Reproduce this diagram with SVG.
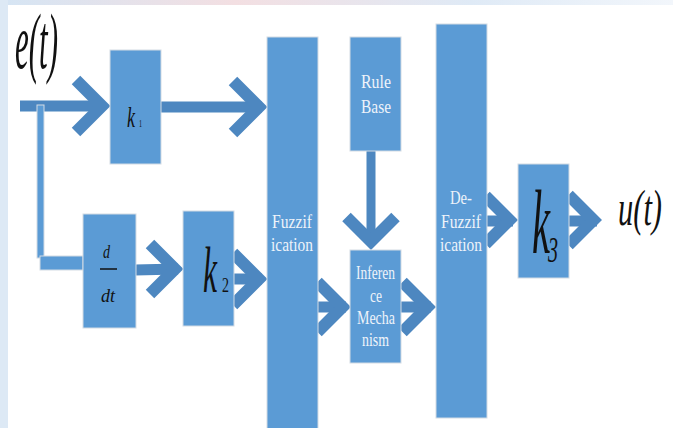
<svg xmlns="http://www.w3.org/2000/svg" width="673" height="428" viewBox="0 0 673 428">
  <defs>
    <style>
      .box{fill:#5b9bd5;stroke:#d3dbe4;stroke-width:1}
      .sh{stroke:#4d87c0;stroke-width:11;fill:none;stroke-linecap:butt}
      .chev{stroke:#4d87c0;stroke-width:12;fill:none;stroke-linejoin:miter;stroke-miterlimit:10;stroke-linecap:butt}
      .lbl{font-family:"Liberation Serif","Times New Roman",serif;font-size:18px;fill:#eef3fa;text-anchor:start}
      .math{font-family:"Liberation Serif","Times New Roman",serif;font-style:italic;fill:#111}
      .up{font-family:"Liberation Serif","Times New Roman",serif;fill:#111}
    </style>
    <linearGradient id="topg" x1="0" y1="0" x2="1" y2="0">
      <stop offset="0" stop-color="#d5e5f4"/>
      <stop offset="0.35" stop-color="#f3dfe2"/>
      <stop offset="0.7" stop-color="#dfeaf6"/>
      <stop offset="1" stop-color="#f2f6fb"/>
    </linearGradient>
  </defs>
  <rect x="0" y="0" width="673" height="428" fill="#ffffff"/>
  <rect x="0" y="0" width="673" height="5" fill="url(#topg)"/>
  <rect x="0" y="0" width="8" height="428" fill="#dde9f5"/>

  <g id="connectors">
    <!-- e(t) -> k1 -->
    <line class="sh" x1="20" y1="106" x2="104" y2="106"/>
    <path class="chev" d="M76,80 L102,106 L76,132"/>
    <!-- branch to d/dt -->
    <rect x="37" y="105" width="7" height="153" fill="#5b9bd5" stroke="#d3dbe4" stroke-width="1"/>
    <rect x="40" y="256" width="43" height="14" fill="#5b9bd5" stroke="#d3dbe4" stroke-width="1"/>
    <!-- k1 -> Fuzzification -->
    <line class="sh" x1="160" y1="107" x2="262" y2="107"/>
    <path class="chev" d="M233,81 L259,107 L233,133"/>
    <!-- d/dt -> k2 -->
    <line class="sh" x1="135" y1="270" x2="178" y2="269"/>
    <path class="chev" d="M150,244 L175,269 L150,294"/>
    <!-- k2 -> Fuzzification -->
    <line class="sh" x1="233" y1="279" x2="262" y2="279"/>
    <path class="chev" d="M233,253 L259,279 L233,305"/>
    <!-- Rule Base -> Inference -->
    <line class="sh" style="stroke-width:9" x1="371" y1="150" x2="371" y2="244"/>
    <path class="chev" d="M346.5,217 L371,241.5 L395.5,217"/>
    <!-- Fuzzification -> Inference -->
    <line class="sh" x1="317" y1="307" x2="346" y2="307"/>
    <path class="chev" d="M317.5,282 L342.5,307 L317.5,332"/>
    <!-- Inference -> De-Fuzzification -->
    <line class="sh" x1="400" y1="307" x2="431" y2="307"/>
    <path class="chev" d="M402.5,282 L427.5,307 L402.5,332"/>
    <!-- De-Fuzzification -> k3 -->
    <line class="sh" x1="486" y1="221" x2="513" y2="221"/>
    <path class="chev" d="M485.5,196 L509.5,220 L485.5,244"/>
    <!-- k3 -> u(t) -->
    <line class="sh" x1="568" y1="221" x2="597" y2="221"/>
    <path class="chev" d="M568.5,195 L593.5,220 L568.5,245"/>
  </g>

  <g id="input-e">
    <text class="math" x="15" y="68" font-size="78" textLength="43" lengthAdjust="spacingAndGlyphs">e(t)</text>
  </g>

  <g id="k1">
    <rect class="box" x="110" y="50" width="51" height="114"/>
    <text class="math" x="127" y="127" font-size="29" textLength="8" lengthAdjust="spacingAndGlyphs">k</text>
    <text class="up" x="139" y="127" font-size="10" textLength="3" lengthAdjust="spacingAndGlyphs">1</text>
  </g>

  <g id="ddt">
    <rect class="box" x="83" y="214" width="53" height="114"/>
    <text class="math" x="103" y="258" font-size="19" textLength="7" lengthAdjust="spacingAndGlyphs">d</text>
    <line x1="100" y1="269" x2="117" y2="269" stroke="#111" stroke-width="1.5"/>
    <text class="math" x="101" y="302" font-size="19" textLength="14" lengthAdjust="spacingAndGlyphs">dt</text>
  </g>

  <g id="k2">
    <rect class="box" x="183" y="211" width="51" height="115"/>
    <text class="math" x="203" y="292" font-size="66" textLength="14" lengthAdjust="spacingAndGlyphs">k</text>
    <text class="up" x="222" y="292" font-size="20" textLength="7" lengthAdjust="spacingAndGlyphs">2</text>
  </g>

  <g id="fuzzification">
    <rect class="box" x="267" y="37" width="51" height="400"/>
    <text class="lbl" x="272" y="228" textLength="40" lengthAdjust="spacingAndGlyphs">Fuzzif</text>
    <text class="lbl" x="271" y="251" textLength="42" lengthAdjust="spacingAndGlyphs">ication</text>
  </g>

  <g id="rule-base">
    <rect class="box" x="350" y="37" width="51" height="114"/>
    <text class="lbl" x="361" y="88" textLength="30" lengthAdjust="spacingAndGlyphs">Rule</text>
    <text class="lbl" x="361" y="113" textLength="30" lengthAdjust="spacingAndGlyphs">Base</text>
  </g>

  <g id="inference">
    <rect class="box" x="350" y="250" width="51" height="113"/>
    <text class="lbl" x="356" y="279" textLength="39" lengthAdjust="spacingAndGlyphs">Inferen</text>
    <text class="lbl" x="370" y="302" textLength="12" lengthAdjust="spacingAndGlyphs">ce</text>
    <text class="lbl" x="357" y="324" textLength="38" lengthAdjust="spacingAndGlyphs">Mecha</text>
    <text class="lbl" x="362" y="346" textLength="27" lengthAdjust="spacingAndGlyphs">nism</text>
  </g>

  <g id="defuzzification">
    <rect class="box" x="436" y="24" width="51" height="394"/>
    <text class="lbl" x="450" y="204" textLength="22" lengthAdjust="spacingAndGlyphs">De-</text>
    <text class="lbl" x="441" y="228" textLength="40" lengthAdjust="spacingAndGlyphs">Fuzzif</text>
    <text class="lbl" x="440" y="251" textLength="42" lengthAdjust="spacingAndGlyphs">ication</text>
  </g>

  <g id="k3">
    <rect class="box" x="518" y="164" width="51" height="114"/>
    <text class="math" x="532" y="253" font-size="90" textLength="18" lengthAdjust="spacingAndGlyphs">k</text>
    <text class="math" x="548" y="262" font-size="36" textLength="10" lengthAdjust="spacingAndGlyphs">3</text>
  </g>

  <g id="output-u">
    <text class="math" x="618" y="225" font-size="50" textLength="44" lengthAdjust="spacingAndGlyphs">u(t)</text>
  </g>
</svg>
